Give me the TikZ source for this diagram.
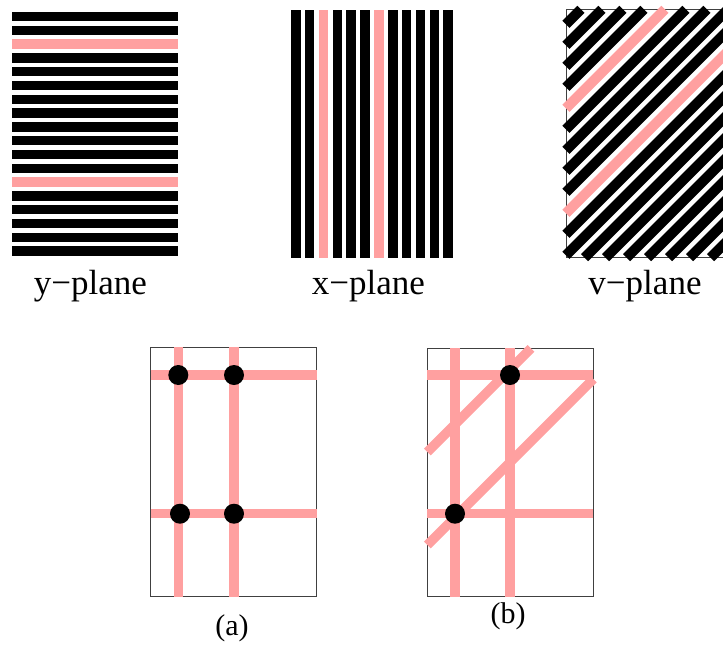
\documentclass[tikz,border=0pt]{standalone}
\usepackage{fontspec}
\setmainfont{Liberation Serif}
\usepackage{xcolor}
\usepackage{tikz}

\definecolor{hitpink}{RGB}{255,160,160}

\begin{document}
\begin{tikzpicture}[
			x=1pt,
			y=-1pt,
			bar/.style={
				fill=#1
			},
			stripe/.style={
				draw=#1,
				line width=10pt
			},
			track/.style={
				draw=hitpink,
				line width=9.5pt
			},
			frame/.style={
				draw=black!75,
				line width=0.9pt
			},
			crossing/.style={
				circle,
				fill=black,
				minimum size=20pt,
				inner sep=0pt
			},
			planelabel/.style={
				anchor=base,
				font=\fontsize{35}{41}\selectfont
			},
			caselabel/.style={
				anchor=base,
				font=\fontsize{30}{35}\selectfont
			}
			]
			
			\useasboundingbox (0,0) rectangle (723,646);
			
			%=====================================================================
			% y-plane
			%=====================================================================
			
			\foreach \k in {0,...,17}{
				\def\ink{black}
				\ifnum\k=2 \def\ink{hitpink}\fi
				\ifnum\k=12 \def\ink{hitpink}\fi
				\pgfmathsetmacro\ytop{11.7+13.8*\k}
				\fill[bar=\ink] (12.3,\ytop) rectangle (178.3,\ytop+9.5);
			}
			
			\node[planelabel] (ylabel) at (90.5,294.7) {y−plane};
			
			%=====================================================================
			% x-plane
			%=====================================================================
			
			\foreach \k in {0,...,11}{
				\def\ink{black}
				\ifnum\k=2 \def\ink{hitpink}\fi
				\ifnum\k=6 \def\ink{hitpink}\fi
				\pgfmathsetmacro\xleft{291+13.85*\k}
				\fill[bar=\ink] (\xleft,9.7) rectangle (\xleft+9.6,258.3);
			}
			
			\node[planelabel] (xlabel) at (368.5,294.7) {x−plane};
			
			%=====================================================================
			% v-plane
			%=====================================================================
			
			\draw[frame] (566,9.3) rectangle (732,257.7);
			
			\foreach \k in {0,...,19}{
				\def\ink{black}
				\ifnum\k=4 \def\ink{hitpink}\fi
				\ifnum\k=9 \def\ink{hitpink}\fi
				\pgfmathsetmacro\c{24.3+21*\k}
				\pgfmathsetmacro\xs{566+max(0,\c-257.7)}
				\pgfmathsetmacro\ys{min(\c,257.7)}
				\pgfmathsetmacro\xe{566+min(166,\c-9.3)}
				\pgfmathsetmacro\ye{max(9.3,\c-166)}
				\draw[stripe=\ink] (\xs,\ys) -- (\xe,\ye);
			}
			
			\node[planelabel] (vlabel) at (645,294.7) {v−plane};
			
			%=====================================================================
			% (a) two planes
			%=====================================================================
			
			\draw[frame] (150.7,347.3) rectangle (316.7,596.7);
			
			\draw[track] (178.3,347.3) -- (178.3,596.7);
			\draw[track] (234,347.3) -- (234,596.7);
			\draw[track] (150.7,375) -- (316.7,375);
			\draw[track] (150.7,513.7) -- (316.7,513.7);
			
			\node[crossing] (a-tl) at (178.3,375) {};
			\node[crossing] (a-tr) at (234,375) {};
			\node[crossing] (a-bl) at (180,513.7) {};
			\node[crossing] (a-br) at (234,513.7) {};
			
			\node[caselabel] (alabel) at (232,635) {(a)};
			
			%=====================================================================
			% (b) three planes
			%=====================================================================
			
			\draw[frame] (427.3,348.3) rectangle (593.3,596.7);
			
			\draw[track] (455,348.3) -- (455,596.7);
			\draw[track] (510,348.3) -- (510,596.7);
			\draw[track] (427.3,375) -- (593.3,375);
			\draw[track] (427.3,513.7) -- (593.3,513.7);
			\draw[track] (427.3,452) -- (531,348.3);
			\draw[track] (427.3,545) -- (593.3,379);
			
			\node[crossing] (b-top) at (510,375) {};
			\node[crossing] (b-low) at (455,513.7) {};
			
			\node[caselabel] (blabel) at (508,623.3) {(b)};
			
		\end{tikzpicture}
\end{document}
